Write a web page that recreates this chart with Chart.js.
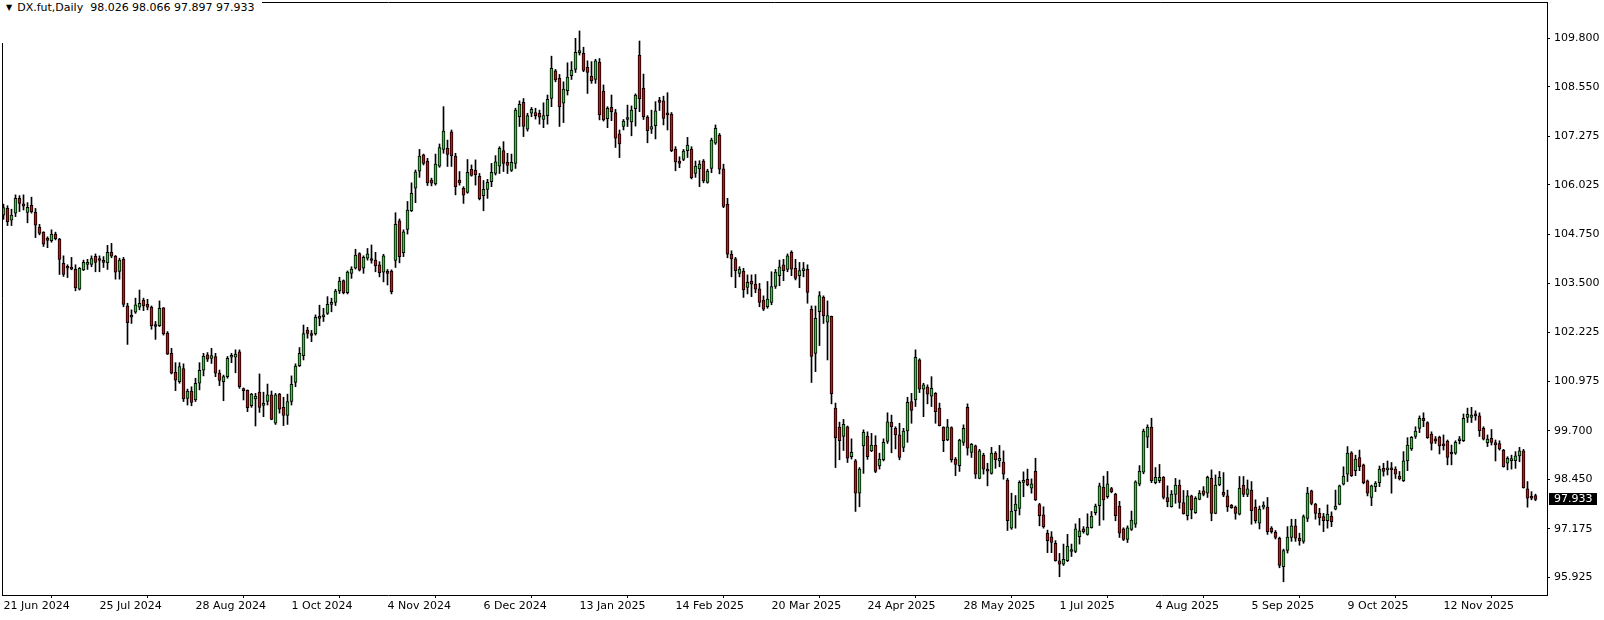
<!DOCTYPE html>
<html>
<head>
<meta charset="utf-8">
<script src="https://cdn.jsdelivr.net/npm/chart.js@4/dist/chart.umd.min.js"></script>
<style>
  html, body { margin: 0; padding: 0; background: #fff; }
  #wrap { position: relative; width: 1604px; height: 620px; }
  #hdr { position: absolute; left: 0; top: 0; width: 256px; height: 42px; padding: 1px 0 0 6px; background: #fff;
         font: 11px "DejaVu Sans", sans-serif; color: #000; line-height: 13px; white-space: pre; }
  #hdr .tri { font-size: 8px; margin-right: 5px; vertical-align: 1px; }
</style>
</head>
<body>
<div id="wrap">
  <canvas id="myChart" width="1604" height="620"></canvas>
  <div id="hdr"><span class="tri">▼</span>DX.fut,Daily  98.026 98.066 97.897 97.933</div>
</div>
<script>
let symbolName = "DX.fut,Daily";

let tickLabels = ["21 Jun 2024", "25 Jul 2024", "28 Aug 2024", "1 Oct 2024", "4 Nov 2024", "6 Dec 2024",
  "13 Jan 2025", "14 Feb 2025", "20 Mar 2025", "24 Apr 2025", "28 May 2025", "1 Jul 2025",
  "4 Aug 2025", "5 Sep 2025", "9 Oct 2025", "12 Nov 2025"];
let barsPerLabel = 24;

let priceTicks = [95.925, 97.175, 98.450, 99.700, 100.975, 102.225, 103.500, 104.750, 106.025, 107.275, 108.550, 109.800];

let openPrices = [
  105.25,105.42,105.12,105.30,105.68,105.54,105.32,105.50,105.32,104.94,104.81,104.63,104.59,104.76,104.63,104.01,
  103.90,103.90,103.85,103.34,103.84,103.98,103.98,104.19,104.11,104.07,104.02,104.29,104.19,103.80,104.11,102.91,
  102.65,102.75,102.88,103.06,102.95,102.88,102.40,102.40,102.86,102.21,101.69,101.20,100.96,101.30,100.53,100.72,
  100.49,100.92,101.26,101.65,101.56,101.61,101.18,100.96,101.09,101.59,101.59,101.73,100.77,100.74,100.34,100.52,
  100.69,100.35,100.45,100.62,99.89,100.64,100.30,100.09,100.45,100.94,101.37,101.63,102.29,102.20,102.19,102.62,
  102.63,102.72,102.95,103.00,103.30,103.56,103.25,103.75,103.88,104.26,103.88,104.14,104.09,104.09,103.97,103.78,
  103.81,103.81,104.08,105.10,104.28,104.88,105.36,105.94,106.38,106.80,106.64,106.15,106.05,106.51,106.94,106.97,
  107.39,106.77,106.15,105.94,105.83,106.43,106.40,106.25,105.75,105.91,106.11,106.32,106.51,106.91,106.61,106.40,
  106.58,107.78,108.15,107.46,107.87,107.89,107.87,107.71,107.81,108.25,108.96,108.77,108.13,108.45,108.84,109.00,
  109.43,109.41,109.05,108.83,108.74,109.19,108.44,107.73,108.02,107.89,107.34,107.53,107.71,107.65,107.99,109.37,
  108.51,107.77,107.46,107.55,108.21,108.19,107.85,107.85,106.95,106.64,106.68,106.91,106.95,106.32,106.44,106.64,
  106.09,106.45,107.10,107.31,106.44,105.53,104.24,104.12,103.75,103.81,103.39,103.55,103.47,103.35,103.06,102.89,
  103.00,103.41,103.69,103.97,103.85,104.29,103.88,103.69,103.82,103.85,102.82,101.69,102.76,103.14,102.49,102.64,
  100.28,99.79,99.55,99.80,99.03,98.92,98.09,99.31,99.56,99.18,99.32,98.79,98.95,99.42,99.92,99.76,
  99.59,99.27,99.69,100.45,100.49,101.52,100.77,100.82,100.59,100.66,100.28,99.79,99.46,99.78,98.97,98.80,
  99.40,100.30,99.14,99.31,98.47,99.07,98.71,98.60,99.12,98.92,98.89,98.43,97.19,97.64,97.70,98.37,
  98.45,98.22,98.65,97.80,97.53,97.06,96.97,96.80,96.35,96.26,96.35,96.59,96.59,96.97,97.17,97.03,
  97.20,97.59,97.77,98.25,98.00,98.21,98.07,97.76,97.17,96.90,97.16,97.29,98.32,98.63,99.53,99.79,
  98.36,98.41,98.50,97.98,97.74,98.06,98.30,97.85,97.51,98.02,97.59,97.93,98.15,98.09,98.47,97.57,
  98.30,98.11,98.02,97.78,97.73,97.55,98.29,98.06,98.17,97.73,97.32,97.73,97.73,97.19,97.08,96.93,
  96.20,96.62,96.95,97.25,96.93,96.85,97.44,98.15,97.81,97.57,97.49,97.38,97.50,97.68,97.80,98.32,
  98.58,99.13,98.67,99.01,98.82,98.41,97.98,98.26,98.36,98.73,98.69,98.70,98.71,98.53,98.41,98.92,
  99.23,99.55,99.76,100.02,99.91,99.61,99.49,99.53,99.36,99.43,99.12,99.12,99.44,99.44,100.04,100.04,
  100.09,100.08,99.76,99.39,99.50,99.39,99.37,99.20,98.86,98.93,98.93,99.05,99.18,98.20,98.00,98.026
];

let highPrices = [
  105.53,105.49,105.40,105.77,105.75,105.77,105.57,105.71,105.42,105.01,104.82,104.69,104.87,104.81,104.65,104.20,
  103.97,104.16,103.97,103.90,104.09,104.11,104.20,104.25,104.20,104.18,104.47,104.52,104.21,104.14,104.16,102.98,
  102.81,103.11,103.32,103.11,103.08,102.91,102.51,103.04,102.87,102.25,101.82,101.45,101.45,101.42,100.77,100.83,
  101.05,101.45,101.69,101.71,101.82,101.69,101.26,101.13,101.61,101.69,101.78,101.78,100.80,100.75,100.66,100.66,
  101.16,100.69,100.90,100.72,100.66,100.66,100.56,100.64,101.11,101.42,101.84,102.42,102.36,102.28,102.68,102.93,
  102.85,103.15,103.11,103.34,103.65,103.58,103.81,103.92,104.37,104.28,104.20,104.39,104.48,104.29,104.05,104.24,
  103.85,103.84,105.31,105.15,104.87,105.60,106.08,106.41,106.94,106.82,106.71,106.20,106.82,107.08,108.04,107.18,
  107.44,106.84,106.37,105.98,106.68,106.54,106.67,106.32,106.14,106.17,106.58,106.78,107.01,107.14,106.84,106.82,
  108.00,108.19,108.25,107.87,108.02,108.00,107.95,108.14,108.34,109.34,109.00,108.87,108.68,109.17,109.20,109.80,
  109.99,109.57,109.22,109.20,109.26,109.28,108.60,108.04,108.34,107.97,107.44,107.71,108.08,108.06,108.37,109.73,
  108.88,107.81,107.95,108.17,108.28,108.31,108.40,107.89,107.01,106.75,106.94,107.25,107.01,106.64,106.65,106.68,
  106.43,107.23,107.57,107.35,106.56,105.68,104.33,104.16,103.92,103.88,103.71,103.71,103.72,103.49,103.17,103.54,
  103.79,103.85,104.09,104.11,104.25,104.33,104.11,104.03,104.03,103.97,102.91,102.91,103.28,103.17,103.04,102.65,
  100.41,99.92,99.99,99.82,99.49,98.96,98.75,99.72,99.67,99.63,99.57,99.12,99.49,100.16,100.10,99.80,
  99.89,99.76,100.56,100.66,101.78,101.55,100.92,100.88,101.09,100.68,100.41,99.80,99.99,99.80,99.01,99.48,
  99.85,100.39,99.37,99.33,99.22,99.12,98.86,99.27,99.16,99.32,99.18,98.47,98.09,98.03,98.41,98.64,
  98.71,98.46,98.99,97.83,97.74,97.14,97.10,96.87,96.54,96.78,97.03,96.78,97.30,97.44,97.23,97.56,
  97.62,97.81,98.35,98.53,98.65,98.24,98.09,97.88,97.20,97.25,97.63,98.41,98.80,99.74,99.85,100.02,
  98.75,98.83,98.52,98.28,98.16,98.47,98.43,98.16,98.16,98.04,98.00,98.16,98.26,98.53,98.69,98.56,
  98.65,98.62,98.17,97.80,97.76,98.52,98.52,98.43,98.39,97.92,97.76,97.87,97.98,97.23,97.13,96.96,
  96.65,97.23,97.42,97.42,97.06,97.53,98.24,98.17,97.83,97.70,97.57,97.79,97.61,98.17,98.30,98.77,
  99.29,99.16,99.07,99.20,98.84,98.43,98.30,98.39,98.79,98.86,98.92,98.88,98.77,98.65,99.16,99.52,
  99.55,99.80,100.08,100.16,99.93,99.67,99.55,99.56,99.59,99.46,99.33,99.44,99.55,100.13,100.28,100.30,
  100.21,100.16,99.80,99.59,99.73,99.46,99.44,99.22,99.03,99.07,99.16,99.27,99.22,98.39,98.13,98.066
];

let lowPrices = [
  105.14,104.98,104.98,105.21,105.34,105.38,105.05,105.30,104.67,104.74,104.44,104.41,104.55,104.61,103.72,103.67,
  103.64,103.84,103.30,103.32,103.82,103.85,103.92,103.79,103.79,103.90,103.85,104.15,103.60,103.60,102.89,101.92,
  102.46,102.72,102.81,102.79,102.81,102.31,102.05,102.38,102.16,101.66,101.16,100.73,100.92,100.45,100.36,100.34,
  100.45,100.75,101.11,101.48,101.43,101.09,100.86,100.47,101.05,101.45,101.19,100.79,100.49,100.19,100.30,99.82,
  100.17,100.06,100.36,99.98,99.86,100.15,99.83,99.86,100.36,100.83,101.35,101.52,102.08,101.99,102.16,102.40,
  102.51,102.69,102.76,102.92,103.23,103.22,103.22,103.62,103.86,103.81,103.75,104.09,104.01,103.79,103.66,103.53,
  103.45,103.22,103.90,104.02,104.18,104.76,105.34,105.57,106.22,106.54,106.01,106.00,106.02,106.48,106.84,106.50,
  106.50,105.77,106.02,105.55,105.81,106.25,106.02,105.64,105.36,105.68,105.98,106.28,106.32,106.37,106.32,106.37,
  106.45,107.53,107.27,107.41,107.78,107.72,107.59,107.50,107.59,108.04,108.68,107.53,107.63,108.34,108.74,108.92,
  109.37,108.94,108.38,108.64,108.64,107.70,107.67,107.50,107.68,106.99,106.73,107.44,107.53,107.29,107.54,107.91,
  107.71,107.11,107.35,107.21,107.94,107.57,107.44,106.88,106.39,106.47,106.65,106.73,106.18,106.22,105.98,106.08,
  106.07,106.34,107.07,106.31,105.44,104.15,103.66,103.38,103.66,103.13,103.22,103.15,103.25,102.89,102.79,102.85,
  102.94,103.36,103.43,103.56,103.79,103.69,103.58,103.38,103.66,102.98,100.94,101.22,101.89,102.46,101.52,100.39,
  98.75,98.95,99.19,98.88,98.97,97.62,97.74,98.60,98.96,99.16,98.62,98.71,98.92,99.37,99.13,99.23,
  98.95,99.16,99.40,99.89,100.32,100.68,100.06,100.39,100.32,99.89,99.82,99.16,99.44,98.89,98.54,98.65,
  99.32,99.07,99.01,98.47,98.46,98.58,98.28,98.58,98.73,98.77,98.45,97.13,97.16,97.19,97.53,98.00,
  98.28,98.09,97.90,97.25,97.19,96.56,96.56,96.34,95.94,96.23,96.33,96.46,96.56,96.78,97.06,97.01,
  97.19,97.53,97.26,97.40,97.96,98.10,97.38,96.95,96.87,96.82,97.13,97.21,98.28,98.59,99.26,98.36,
  98.33,98.36,97.94,97.74,97.73,97.83,97.70,97.55,97.40,97.43,97.57,97.92,98.02,97.98,97.38,97.56,
  98.28,98.00,97.62,97.70,97.42,97.53,98.00,98.00,97.29,97.32,97.17,97.68,97.03,97.06,96.91,96.17,
  95.81,96.55,96.85,96.85,96.75,96.80,97.36,97.79,97.42,97.27,97.10,97.19,97.23,97.66,97.79,98.30,
  98.39,98.52,98.54,98.67,98.33,98.02,97.77,98.13,98.26,98.53,98.56,98.09,98.47,98.43,98.39,98.67,
  99.19,99.50,99.65,99.80,99.50,99.20,99.37,99.10,99.20,98.82,98.82,99.09,99.36,99.42,99.91,99.91,
  99.97,99.55,99.46,99.29,99.33,98.92,99.20,98.76,98.69,98.71,98.73,98.90,98.22,97.73,97.92,97.897
];

let closePrices = [
  105.44,105.08,105.25,105.68,105.55,105.48,105.45,105.34,104.99,104.78,104.50,104.60,104.76,104.64,104.11,103.72,
  103.88,103.86,103.38,103.88,104.03,103.99,104.13,104.03,104.08,104.03,104.29,104.19,103.78,104.09,102.95,102.48,
  102.62,102.94,102.98,102.91,102.88,102.40,102.38,102.85,102.19,101.67,101.18,101.00,101.35,100.52,100.72,100.43,
  100.92,101.25,101.62,101.54,101.63,101.18,100.99,101.09,101.56,101.62,101.67,100.83,100.73,100.29,100.64,100.59,
  100.30,100.40,100.62,99.99,100.62,100.25,100.09,100.45,100.89,101.36,101.69,102.20,102.20,102.15,102.62,102.59,
  102.68,102.95,102.97,103.29,103.55,103.25,103.78,103.86,104.22,103.83,104.16,104.25,104.08,103.95,103.77,104.20,
  103.75,103.28,105.01,104.18,104.82,105.38,105.81,106.36,106.77,106.58,106.08,106.07,106.56,106.99,107.41,106.81,
  106.78,105.98,106.08,105.76,106.35,106.27,106.29,105.67,105.91,106.09,106.35,106.62,106.97,106.58,106.53,106.61,
  107.95,108.10,107.53,107.81,107.97,107.81,107.77,107.81,108.23,109.03,108.73,108.04,108.49,108.80,108.98,109.44,
  109.47,108.97,108.92,108.70,109.22,107.83,107.70,108.00,107.91,107.23,107.08,107.67,107.74,107.95,108.34,108.24,
  107.78,107.42,107.53,107.93,108.15,107.74,107.83,106.91,106.62,106.58,106.90,107.05,106.21,106.51,106.56,106.13,
  106.38,107.18,107.48,106.43,105.47,104.24,104.12,103.82,103.86,103.32,103.52,103.47,103.34,103.00,102.83,103.09,
  103.41,103.78,103.92,103.82,104.20,103.86,103.62,103.82,103.85,103.26,101.61,102.59,103.18,102.66,102.66,100.65,
  99.52,99.44,99.86,98.99,99.14,98.09,98.71,99.66,99.03,99.33,98.65,98.97,99.40,99.93,99.80,99.59,
  99.01,99.69,100.43,100.22,101.59,100.77,100.88,100.64,100.79,100.19,99.83,99.44,99.80,98.95,98.83,99.46,
  99.76,99.25,99.35,98.58,99.18,98.71,98.66,99.12,98.95,98.99,98.58,97.38,97.63,97.81,98.37,98.41,
  98.30,98.33,97.92,97.51,97.23,96.87,96.82,96.35,96.26,96.39,96.73,96.63,97.17,97.12,97.10,97.22,
  97.50,97.76,98.28,97.92,98.33,98.13,97.51,97.06,96.90,97.20,97.40,98.38,98.66,99.69,99.79,98.41,
  98.50,98.50,97.98,97.87,98.07,98.30,97.85,97.56,98.02,97.66,97.96,98.09,98.06,98.50,97.57,98.30,
  98.50,98.04,97.74,97.72,97.57,98.22,98.06,98.20,97.64,97.38,97.68,97.77,97.10,97.10,96.95,96.23,
  96.61,96.96,97.25,96.93,96.86,97.49,98.09,97.83,97.57,97.46,97.38,97.55,97.36,97.76,98.28,98.53,
  99.12,98.54,98.97,98.77,98.36,98.09,98.28,98.35,98.71,98.65,98.70,98.69,98.58,98.46,98.92,99.33,
  99.53,99.69,100.02,99.96,99.52,99.37,99.43,99.31,99.31,99.01,99.10,99.40,99.46,100.02,100.12,100.10,
  100.08,99.70,99.48,99.48,99.40,99.33,99.23,98.77,98.99,98.95,99.05,99.18,98.23,97.96,97.96,97.933
];

let bullColor = "#32cd32";
let bearColor = "#d01010";

let ctx = document.getElementById("myChart");

let barIndex = closePrices.map((c, i) => i);
let tickBars = tickLabels.map((l, i) => i * barsPerLabel);
let lastClose = closePrices[closePrices.length - 1];

let wickData = barIndex.map(i => ({ x: i, y: [lowPrices[i], highPrices[i]] }));
let bodyData = barIndex.map(i => ({
  x: i,
  y: [Math.min(openPrices[i], closePrices[i]), Math.max(openPrices[i], closePrices[i])]
}));

// no extra room for the end labels, the frame is fixed
noPadding = (scale) => {
  scale.paddingTop = 0;
  scale.paddingBottom = 0;
  scale.paddingLeft = 0;
  scale.paddingRight = 0;
}

let chartFrame = {
  id: "chartFrame",
  afterDraw: (chart) => {
    let c = chart.ctx;
    let a = chart.chartArea;
    c.save();
    c.strokeStyle = "#000";
    c.lineWidth = 1;
    c.beginPath();
    c.moveTo(a.left + 0.5, a.bottom);
    c.lineTo(a.left + 0.5, a.top + 0.5);
    c.lineTo(a.right, a.top + 0.5);
    c.stroke();

    // current price box on the right scale
    let y = chart.scales.y.getPixelForValue(lastClose);
    c.fillStyle = "#000";
    c.fillRect(a.right + 2, Math.round(y) - 6, 48, 12);
    c.fillStyle = "#fff";
    c.font = "11px 'DejaVu Sans'";
    c.textBaseline = "middle";
    c.textAlign = "left";
    c.fillText(lastClose.toFixed(3), a.right + 7, Math.round(y) + 0.5);
    c.restore();
  }
};

let myChart = new Chart(ctx, {
  type: "bar",
  data: {
    datasets: [
      {
        label: "wick",
        data: wickData,
        backgroundColor: "#000",
        borderWidth: 0,
        barThickness: 1,
        grouped: false,
        order: 2
      },
      {
        label: symbolName,
        data: bodyData,
        backgroundColor: (c) => closePrices[c.dataIndex] >= openPrices[c.dataIndex] ? bullColor : bearColor,
        borderColor: "#000",
        borderWidth: 1,
        borderSkipped: false,
        barThickness: 3,
        minBarLength: 2,
        grouped: false,
        order: 1
      }
    ]
  },
  options: {
    responsive: false,
    animation: false,
    events: [],
    layout: { padding: { left: 2, top: 2, right: 0, bottom: 0 } },
    plugins: {
      legend: { display: false },
      tooltip: { enabled: false }
    },
    scales: {
      x: {
        type: "linear",
        min: -0.375,
        max: 385.875,
        offset: false,
        grid: { drawOnChartArea: false, drawTicks: true, tickLength: 3, color: "#000" },
        border: { display: true, color: "#000" },
        afterBuildTicks: (scale) => { scale.ticks = tickBars.map(v => ({ value: v })); },
        afterFit: (scale) => { scale.height = 25; noPadding(scale); },
        ticks: {
          autoSkip: false,
          maxRotation: 0,
          align: "start",
          padding: 2,
          color: "#000",
          font: { family: "DejaVu Sans", size: 11 },
          callback: (value) => tickLabels[tickBars.indexOf(value)]
        }
      },
      y: {
        position: "right",
        min: 95.4694,
        max: 110.7344,
        grid: { drawOnChartArea: false, drawTicks: true, tickLength: 3, color: "#000" },
        border: { display: true, color: "#000" },
        afterBuildTicks: (scale) => { scale.ticks = priceTicks.map(v => ({ value: v })); },
        afterFit: (scale) => { scale.width = 57; noPadding(scale); },
        ticks: {
          padding: 4,
          color: "#000",
          font: { family: "DejaVu Sans", size: 11 },
          callback: (value) => value.toFixed(3)
        }
      }
    }
  },
  plugins: [chartFrame]
});
</script>
</body>
</html>
